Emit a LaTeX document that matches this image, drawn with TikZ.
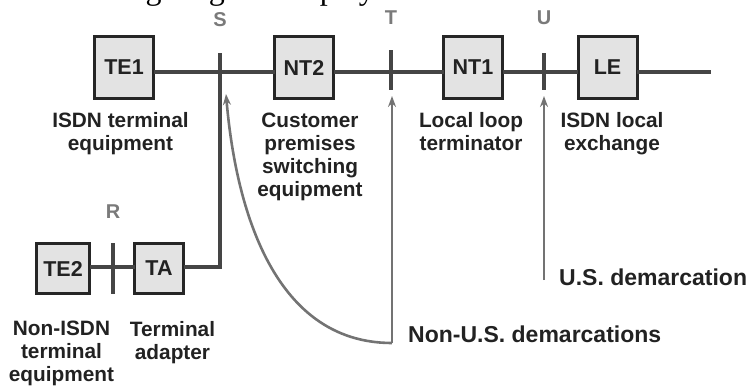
\documentclass[tikz,border=0pt]{standalone}
\usepackage{fontspec}
\setmainfont{Liberation Sans}
\newfontfamily\captionserif{Liberation Serif}
\usetikzlibrary{arrows.meta}
\definecolor{boxfill}{HTML}{E3E3E3}
\definecolor{boxline}{HTML}{262626}
\definecolor{wire}{HTML}{454545}
\definecolor{pointer}{HTML}{737373}
\definecolor{refletter}{HTML}{7A7A7A}
\definecolor{labeltext}{HTML}{222222}
\tikzset{
  unitbox/.style={draw=boxline, line width=3pt, fill=boxfill, inner sep=0pt, outer sep=0pt,
    minimum width=59pt, minimum height=62pt, text=labeltext, font=\bfseries\fontsize{21.5}{23}\selectfont},
  smallbox/.style={unitbox, minimum width=53pt, minimum height=50pt},
  wireline/.style={draw=wire, line width=4.5pt},
  tickline/.style={draw=wire, line width=4pt},
  pointerline/.style={draw=pointer, line width=2.6pt, -{Stealth[length=11pt,width=8pt]}},
  desc/.style={align=center, anchor=north, inner sep=0pt, text=labeltext, font=\bfseries\fontsize{20.8}{23}\selectfont},
  refpoint/.style={text=refletter, inner sep=0pt, font=\bfseries\fontsize{20}{23}\selectfont},
  demarc/.style={anchor=west, inner sep=0pt, text=labeltext, font=\bfseries\fontsize{23}{26}\selectfont}
}
\begin{document}
\begin{tikzpicture}[x=1pt,y=-1pt]
\useasboundingbox (0,0) rectangle (752,386);

% cut-off caption line above the figure (only its descenders show)
\node[anchor=base west, inner sep=0pt, font=\captionserif\fontsize{32}{34}\selectfont] (caption) at (37,-1) {following diagram displays};

% boxes
\node[unitbox] (TE1) at (124,67.5) {TE1};
\node[unitbox] (NT2) at (304,67.5) {NT2};
\node[unitbox] (NT1) at (473,67.5) {NT1};
\node[unitbox] (LE)  at (607.5,67.5) {LE};
\node[smallbox, minimum width=53pt] (TE2) at (63,268.5) {TE2};
\node[smallbox, minimum width=49pt] (TA)  at (159,268.5) {TA};

% reference-point coordinates
\coordinate (lineend) at (711,72);
\coordinate (Stop) at (220,53);
\coordinate (Slow) at (220,228);
\coordinate (Scorner) at (220,267);
\coordinate (Ttop) at (391,50);
\coordinate (Tbot) at (391,90);
\coordinate (Utop) at (544,53);
\coordinate (Ubot) at (544,90);
\coordinate (Rtop) at (113,243);
\coordinate (Rbot) at (113,294);

% main bus
\draw[wireline] ([yshift=-4.5pt]TE1.east) -- ([yshift=-4.5pt]NT2.west);
\draw[wireline] ([yshift=-4.5pt]NT2.east) -- ([yshift=-4.5pt]NT1.west);
\draw[wireline] ([yshift=-4.5pt]NT1.east) -- ([yshift=-4.5pt]LE.west);
\draw[wireline] ([yshift=-4.5pt]LE.east) -- (lineend);

% TE2 - TA and TA up to S
\draw[tickline] ([yshift=1.5pt]TE2.east) -- ([yshift=1.5pt]TA.west);
\draw[tickline, line width=3.5pt] (Slow) -- (Stop);
\draw[tickline, line join=miter] ([yshift=1.5pt]TA.east) -- (Scorner) -- (Slow);

% ticks
\draw[tickline] (Ttop) -- (Tbot);
\draw[tickline] (Utop) -- (Ubot);
\draw[tickline] (Rtop) -- (Rbot);

% reference letters
\node[refpoint] (Slab) at (220,20) {S};
\node[refpoint] (Tlab) at (391,18) {T};
\node[refpoint] (Ulab) at (544,18) {U};
\node[refpoint] (Rlab) at (113,212) {R};

% descriptions
\node[desc] (d1) at (120.5,112) {ISDN terminal\\equipment};
\node[desc] (d2) at (310,113) {Customer\\premises\\switching\\equipment};
\node[desc] (d3) at (471,112) {Local loop\\terminator};
\node[desc] (d4) at (612,112) {ISDN local\\exchange};
\node[desc] (d5) at (61.5,321) {Non-ISDN\\terminal\\equipment};
\node[desc] (d6) at (172.5,321) {Terminal\\adapter};

% demarcation pointers
\coordinate (nonus) at (392,343);
\coordinate (Ttip) at (392,96);
\coordinate (Stip) at (226,94);
\coordinate (usbot) at (544,280);
\coordinate (Utip) at (544,96);
\draw[pointerline] (nonus) -- (Ttip);
\draw[pointerline] (nonus) .. controls (270,343) and (235,200) .. (Stip);
\draw[pointerline] (usbot) -- (Utip);

\node[demarc] (nonuslab) at (408,334) {Non-U.S. demarcations};
\node[demarc] (uslab) at (559,277) {U.S. demarcation};
\end{tikzpicture}
\end{document}
